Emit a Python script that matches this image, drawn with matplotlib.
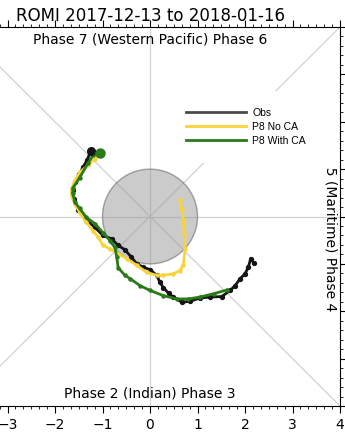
import matplotlib
matplotlib.use("Agg")
import matplotlib.pyplot as plt
from matplotlib.patches import Circle
from matplotlib.lines import Line2D
from matplotlib.ticker import MultipleLocator, AutoMinorLocator

title = "ROMI 2017-12-13 to 2018-01-16"
labels = ["Obs", "P8 No CA", "P8 With CA"]

obs_x = [-1.07, -1.25, -1.32, -1.41, -1.49, -1.58, -1.62, -1.60, -1.51, -1.34, -1.16, -0.99,
         -0.81, -0.67, -0.53, -0.39, -0.28, -0.14, 0.00, 0.14, 0.21, 0.28, 0.39, 0.49,
         0.67, 0.84, 1.05, 1.27, 1.51, 1.69, 1.79, 1.90, 2.00, 2.07, 2.12, 2.19]
obs_y = [1.34, 1.38, 1.20, 1.04, 0.89, 0.72, 0.56, 0.37, 0.13, -0.08, -0.23, -0.40,
         -0.47, -0.61, -0.70, -0.86, -1.00, -1.07, -1.12, -1.24, -1.39, -1.50, -1.62, -1.70,
         -1.81, -1.79, -1.72, -1.70, -1.69, -1.56, -1.46, -1.31, -1.21, -1.07, -0.89, -0.99]

nca_x = [-1.05, -1.16, -1.31, -1.48, -1.58, -1.65, -1.65, -1.58, -1.48, -1.34, -1.20, -1.09,
         -0.99, -0.84, -0.67, -0.49, -0.28, -0.07, 0.14, 0.28, 0.49, 0.63, 0.70, 0.74,
         0.72, 0.70, 0.67, 0.63]
nca_y = [1.33, 1.22, 1.08, 0.93, 0.76, 0.59, 0.44, 0.27, 0.08, -0.12, -0.30, -0.44,
         -0.61, -0.68, -0.79, -0.89, -1.03, -1.18, -1.24, -1.24, -1.21, -1.14, -1.03, -0.68,
         -0.36, -0.08, 0.16, 0.34]

wca_x = [-1.05, -1.20, -1.31, -1.48, -1.62, -1.63, -1.58, -1.48, -1.34, -1.16, -0.99, -0.84,
         -0.74, -0.70, -0.67, -0.53, -0.42, -0.21, 0.00, 0.28, 0.56, 0.81, 1.05, 1.34, 1.62]
wca_y = [1.33, 1.29, 1.12, 0.82, 0.61, 0.49, 0.30, 0.17, -0.02, -0.15, -0.34, -0.51,
         -0.65, -0.86, -1.08, -1.24, -1.31, -1.46, -1.56, -1.67, -1.74, -1.74, -1.70, -1.63, -1.55]

phase_top = "Phase 7 (Western Pacific) Phase 6"
phase_bottom = "Phase 2 (Indian) Phase 3"
phase_right = "Phase 5 (Maritime) Phase 4"

c_obs, c_nca, c_wca = "#151515", "#f8d43c", "#2a7a1a"

fig = plt.figure(figsize=(3.45, 4.32), dpi=100)
ax = fig.add_axes([-40/345, 26/432, 380/345, 379/432])
ax.set_xlim(-4, 4)
ax.set_ylim(-4, 4)

gcol = "#d2d2d2"
ax.axhline(0, color=gcol, lw=0.9, zorder=1)
ax.axvline(0, color=gcol, lw=0.9, zorder=1)
ax.axline((0, 0), slope=1, color=gcol, lw=0.9, zorder=1)
ax.axline((0, 0), slope=-1, color=gcol, lw=0.9, zorder=1)
ax.add_patch(Circle((0, 0), 1, facecolor=(0.6, 0.6, 0.6), alpha=0.5,
                    edgecolor="#555555", lw=1.0, zorder=1.5))

ax.plot(obs_x, obs_y, color=c_obs, lw=2, marker="o", ms=2.8, zorder=3)
ax.plot(nca_x, nca_y, color=c_nca, lw=2, marker="o", ms=2.2, zorder=3.1)
ax.plot(wca_x, wca_y, color=c_wca, lw=2, marker="o", ms=2.2, zorder=3.2)
ax.plot(obs_x[1], obs_y[1], "o", color=c_obs, ms=5.5, zorder=3.3)
ax.plot(wca_x[0], wca_y[0], "o", color=c_wca, ms=6.5, zorder=3.4)

ax.text(0, 3.73, phase_top, ha="center", va="center", fontsize=10, zorder=2)
ax.text(0, -3.73, phase_bottom, ha="center", va="center", fontsize=10, zorder=2)
ax.text(3.79, 0, phase_right, ha="center", va="center", rotation=270, fontsize=10, zorder=2)

handles = [Line2D([], [], color=c, lw=2) for c in ("#4a4a4a", c_nca, c_wca)]
leg = ax.legend(handles, labels, loc="upper left", bbox_to_anchor=(0.55, 0.63, 0.445, 0.2),
                mode="expand", borderaxespad=0, borderpad=1.6, handlelength=5.8,
                handletextpad=0.6, labelspacing=0.38,
                prop={"family": "Liberation Sans", "size": 7.5},
                frameon=True, fancybox=False, framealpha=1.0)
leg.get_frame().set_edgecolor("none")
leg.get_frame().set_facecolor("white")
leg.set_zorder(2.4)

ax.set_title(title, fontsize=12, pad=4)
ax.xaxis.set_major_locator(MultipleLocator(1))
ax.yaxis.set_major_locator(MultipleLocator(1))
ax.xaxis.set_minor_locator(AutoMinorLocator(6))
ax.yaxis.set_minor_locator(AutoMinorLocator(5))
ax.tick_params(which="both", top=True, right=True, labeltop=False, labelright=False,
               labelleft=False, direction="out", labelsize=10)
ax.tick_params(which="major", length=5)
ax.tick_params(which="minor", length=2.5)

fig.savefig("out.png", dpi=100)
